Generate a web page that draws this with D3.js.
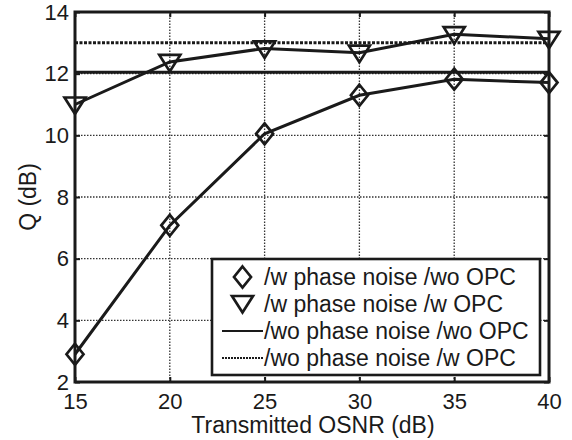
<!DOCTYPE html>
<html>
<head>
<meta charset="utf-8">
<script src="https://cdn.jsdelivr.net/npm/d3@7"></script>
<style>
  html, body { margin: 0; padding: 0; background: #fff; }
  svg { display: block; font-family: "Liberation Sans", Arial, Helvetica, sans-serif; }
</style>
</head>
<body>
<svg id="chart" width="572" height="440"></svg>
<script>
// Transmitted OSNR (dB) sample points
const osnr = [15, 20, 25, 30, 35, 40];
// Q factor with phase noise, without OPC (diamonds)
const qPhaseNoOpc = [2.9, 7.08, 10.05, 11.3, 11.82, 11.71];
// Q factor with phase noise, with OPC (triangles)
const qPhaseOpc = [11.0, 12.38, 12.82, 12.68, 13.28, 13.13];
// Reference levels without phase noise
const qNoPhaseNoOpc = 12.05;
const qNoPhaseOpc = 13.0;

const xTicks = [15, 20, 25, 30, 35, 40];
const yTicks = [2, 4, 6, 8, 10, 12, 14];
const legendLabels = [
  "/w phase noise /wo OPC",
  "/w phase noise /w OPC",
  "/wo phase noise /wo OPC",
  "/wo phase noise /w OPC"
];

const W = 572, H = 440;
const margin = { left: 75, right: 23, top: 12, bottom: 58 };
const svg = d3.select("#chart");

const x = d3.scaleLinear().domain([15, 40]).range([margin.left, W - margin.right]);
const y = d3.scaleLinear().domain([2, 14]).range([H - margin.bottom, margin.top]);

const ink = "#1a1a1a";
const tickFont = 22;
const textFont = 23;

// grid lines
const grid = svg.append("g");
grid.selectAll(".gx").data(xTicks.slice(1, -1)).join("line")
  .attr("x1", d => x(d)).attr("x2", d => x(d))
  .attr("y1", y(2)).attr("y2", y(14))
  .attr("stroke", "#333").attr("stroke-width", 1.3)
  .attr("stroke-dasharray", "1.5,1.5");
grid.selectAll(".gy").data(yTicks.slice(1, -1)).join("line")
  .attr("y1", d => y(d)).attr("y2", d => y(d))
  .attr("x1", x(15)).attr("x2", x(40))
  .attr("stroke", "#333").attr("stroke-width", 1.3)
  .attr("stroke-dasharray", "1.5,1.5");

// axes: ticks pointing inwards on all four sides, no domain path
const tickLen = 5;
const axB = svg.append("g").attr("transform", `translate(0,${y(2)})`)
  .call(d3.axisBottom(x).tickValues(xTicks).tickSize(-tickLen).tickPadding(11).tickFormat(d3.format("d")));
const axT = svg.append("g").attr("transform", `translate(0,${y(14)})`)
  .call(d3.axisTop(x).tickValues(xTicks).tickSize(-tickLen).tickFormat(""));
const axL = svg.append("g").attr("transform", `translate(${x(15)},0)`)
  .call(d3.axisLeft(y).tickValues(yTicks).tickSize(-tickLen).tickPadding(6).tickFormat(d3.format("d")));
const axR = svg.append("g").attr("transform", `translate(${x(40)},0)`)
  .call(d3.axisRight(y).tickValues(yTicks).tickSize(-tickLen).tickFormat(""));
[axB, axT, axL, axR].forEach(a => {
  a.select(".domain").remove();
  a.selectAll(".tick line").attr("stroke", ink).attr("stroke-width", 2);
  a.selectAll("text").attr("fill", ink).attr("font-size", tickFont)
    .attr("font-family", "Liberation Sans, Arial, sans-serif");
});
axB.selectAll("text").attr("dy", "0.71em");

// reference lines (no phase noise)
svg.append("line")
  .attr("x1", x(15)).attr("x2", x(40))
  .attr("y1", y(qNoPhaseNoOpc)).attr("y2", y(qNoPhaseNoOpc))
  .attr("stroke", ink).attr("stroke-width", 3);
svg.append("line")
  .attr("x1", x(15)).attr("x2", x(40))
  .attr("y1", y(qNoPhaseOpc)).attr("y2", y(qNoPhaseOpc))
  .attr("stroke", ink).attr("stroke-width", 3)
  .attr("stroke-dasharray", "3,1.5");

// series lines
const line = d3.line().x((d, i) => x(osnr[i])).y(d => y(d));
svg.append("path").datum(qPhaseNoOpc).attr("d", line)
  .attr("fill", "none").attr("stroke", ink).attr("stroke-width", 3);
svg.append("path").datum(qPhaseOpc).attr("d", line)
  .attr("fill", "none").attr("stroke", ink).attr("stroke-width", 3);

// marker shapes
const diamond = (cx, cy) => `M${cx},${cy - 10.5}L${cx + 8.5},${cy}L${cx},${cy + 10.5}L${cx - 8.5},${cy}Z`;
const triDown = (cx, cy) => `M${cx - 10.5},${cy - 7}L${cx + 10.5},${cy - 7}L${cx},${cy + 9.5}Z`;

svg.append("g").selectAll("path").data(qPhaseNoOpc).join("path")
  .attr("d", (d, i) => diamond(x(osnr[i]), y(d)))
  .attr("fill", "none").attr("stroke", ink).attr("stroke-width", 2.7)
  .attr("stroke-linejoin", "miter");
svg.append("g").selectAll("path").data(qPhaseOpc).join("path")
  .attr("d", (d, i) => triDown(x(osnr[i]), y(d)))
  .attr("fill", "none").attr("stroke", ink).attr("stroke-width", 2.7)
  .attr("stroke-linejoin", "miter");

// plot frame
svg.append("rect")
  .attr("x", x(15)).attr("y", y(14))
  .attr("width", x(40) - x(15)).attr("height", y(2) - y(14))
  .attr("fill", "none").attr("stroke", ink).attr("stroke-width", 3);

// axis titles
svg.append("text")
  .attr("x", (x(15) + x(40)) / 2 + 1).attr("y", 433)
  .attr("text-anchor", "middle").attr("font-size", textFont).attr("fill", ink)
  .text("Transmitted OSNR (dB)");
svg.append("text")
  .attr("transform", `translate(36,${(y(2) + y(14)) / 2}) rotate(-90)`)
  .attr("text-anchor", "middle").attr("font-size", textFont).attr("fill", ink)
  .text("Q (dB)");

// legend
const lg = svg.append("g");
lg.append("rect")
  .attr("x", 212).attr("y", 259).attr("width", 328).attr("height", 116)
  .attr("fill", "#fff").attr("stroke", ink).attr("stroke-width", 2.6);
const rowY = [277, 304, 331, 358];
const sampleX0 = 222, sampleX1 = 263, textX = 264;
legendLabels.forEach((lab, i) => {
  const cy = rowY[i];
  if (i === 0) {
    lg.append("path").attr("d", diamond((sampleX0 + sampleX1) / 2, cy))
      .attr("fill", "none").attr("stroke", ink).attr("stroke-width", 2.7);
  } else if (i === 1) {
    lg.append("path").attr("d", triDown((sampleX0 + sampleX1) / 2, cy - 1))
      .attr("fill", "none").attr("stroke", ink).attr("stroke-width", 2.7);
  } else {
    lg.append("line").attr("x1", sampleX0).attr("x2", sampleX1)
      .attr("y1", cy).attr("y2", cy)
      .attr("stroke", ink).attr("stroke-width", 2.2)
      .attr("stroke-dasharray", i === 3 ? "2,1" : null);
  }
  lg.append("text").attr("x", textX).attr("y", cy).attr("dy", "0.36em")
    .attr("font-size", textFont).attr("fill", ink).text(lab);
});
</script>
</body>
</html>
